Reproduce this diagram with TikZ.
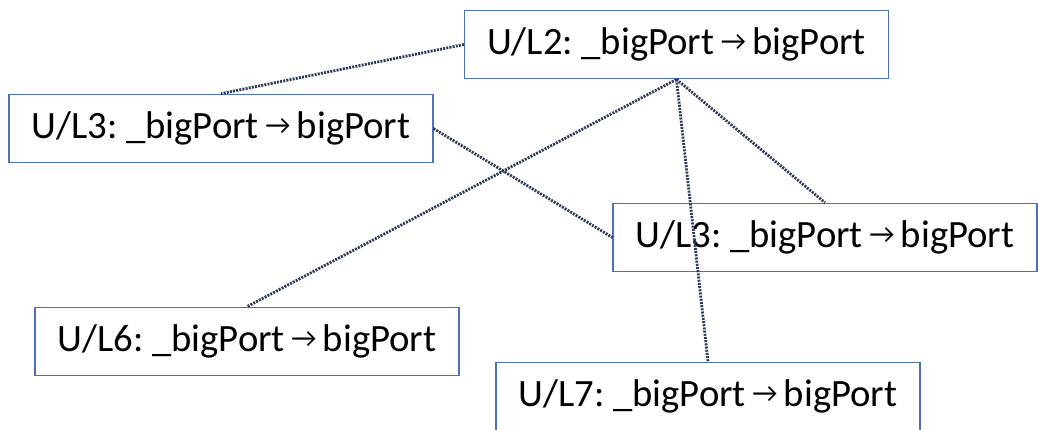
\documentclass[tikz,border=0pt]{standalone}
\usepackage{fontspec}
\setmainfont{Carlito}
\usetikzlibrary{positioning,calc}
\definecolor{boxblue}{HTML}{4A72B8}
\definecolor{linknavy}{HTML}{2C3A58}
\newcommand{\ren}{\,\raisebox{0.1em}{\scalebox{0.72}{→}}\,}
\tikzset{
  rename/.style={draw=boxblue,line width=0.8pt,fill=white,minimum width=318pt,
    minimum height=51.5pt,inner sep=0pt,font=\fontsize{29}{34}\selectfont},
  link/.style={draw=linknavy,line width=2.1pt,dash pattern=on 1.5pt off 0.9pt},
}

\begin{document}
\begin{tikzpicture}[x=0.75pt,y=-0.75pt]
  \useasboundingbox (0,0) rectangle (1038,429);
  % rename nodes, one per line number
  \node[rename] (l2)  at (676.5,44.5)  {U/L2:\hspace{-0.08em} \_bigPort\ren bigPort};
  \node[rename] (l3a) at (221,128.5)   {U/L3:\hspace{-0.08em} \_bigPort\ren bigPort};
  \node[rename] (l3b) at (825,237.5)   {U/L3:\hspace{-0.08em} \_bigPort\ren bigPort};
  \node[rename] (l6)  at (247,341.5)   {U/L6:\hspace{-0.08em} \_bigPort\ren bigPort};
  \node[rename] (l7)  at (708,396.5)   {U/L7:\hspace{-0.08em} \_bigPort\ren bigPort};
  % dotted links, drawn over the boxes
  \draw[link] (l2.west) -- (l3a.north);
  \draw[link] (l2.south) -- (l6.north);
  \draw[link] (l2.south) -- (l7.north);
  \draw[link] (l2.south) -- (l3b.north);
  \draw[link] (l3a.east) -- (l3b.west);
\end{tikzpicture}
\end{document}
